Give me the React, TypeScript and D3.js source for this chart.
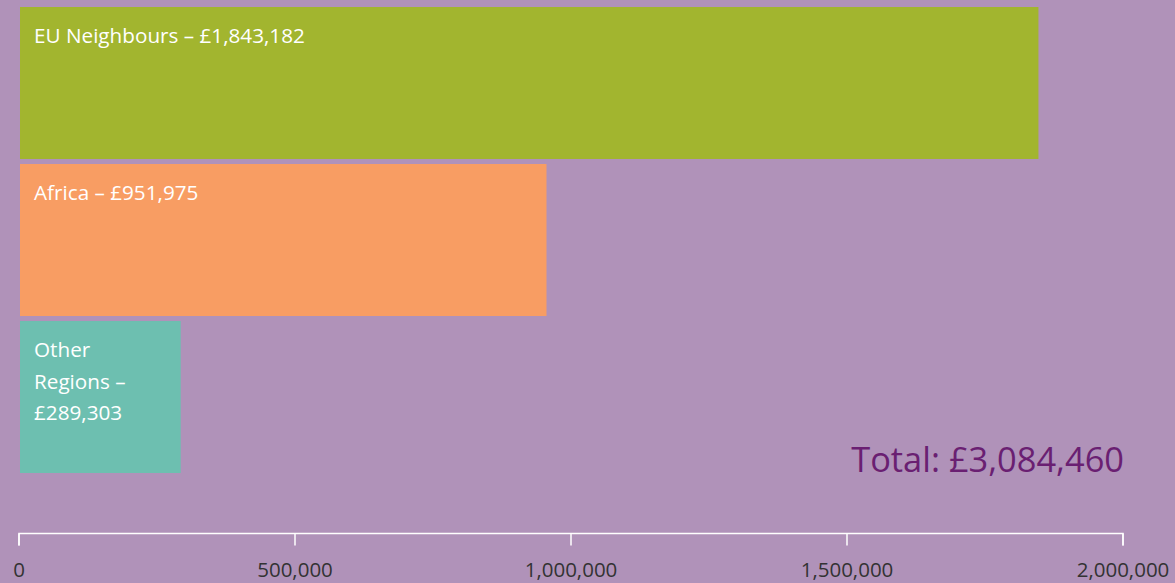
import React, { useEffect, useRef } from 'react';
import * as d3 from 'd3';

const regions = ['EU Neighbours', 'Africa', 'Other Regions'];
const amounts = [1843182, 951975, 289303];
const barColors = ['#a2b52f', '#f89d63', '#6dbfb0'];
const tickValues = [0, 500000, 1000000, 1500000, 2000000];
const totalLabel = 'Total: £3,084,460';

const W = 1175;
const H = 583;
const FONT = '"Open Sans", "Noto Sans", sans-serif';

const App: React.FC = () => {
  const svgRef = useRef<SVGSVGElement>(null);

  useEffect(() => {
    if (!svgRef.current) return;
    const svg = d3.select(svgRef.current);
    svg.selectAll('*').remove();

    svg.append('rect').attr('width', W).attr('height', H).attr('fill', '#b092b9');

    const x = d3.scaleLinear().domain([0, 2000000]).range([19, 1123]);
    const y = d3.scaleBand().domain(regions).range([7, 473]).paddingInner(0.032).paddingOuter(0);

    const rows = regions.map((r, i) => ({ region: r, value: amounts[i], color: barColors[i] }));
    const fmt = d3.format(',');

    const g = svg.append('g').selectAll('g').data(rows).enter().append('g');

    g.append('rect')
      .attr('x', x(0) + 1)
      .attr('y', d => y(d.region) || 0)
      .attr('width', d => x(d.value) - x(0) + 1)
      .attr('height', y.bandwidth())
      .attr('fill', d => d.color);

    // labels, wrapped inside the bar
    g.each(function (d) {
      const maxW = x(d.value) - x(0) - 26;
      const text = d3.select(this).append('text')
        .attr('font-family', FONT)
        .attr('font-size', 20.7)
        .attr('fill', '#ffffff')
        .attr('x', 34)
        .attr('y', (y(d.region) || 0) + 36);
      const words = `${d.region} – £${fmt(d.value)}`.split(' ');
      let line: string[] = [];
      let tspan = text.append('tspan').attr('x', 34).attr('dy', 0);
      words.forEach(w => {
        line.push(w);
        tspan.text(line.join(' '));
        if ((tspan.node() as SVGTSpanElement).getComputedTextLength() > maxW && line.length > 1) {
          line.pop();
          tspan.text(line.join(' '));
          line = [w];
          tspan = text.append('tspan').attr('x', 34).attr('dy', 31.5).text(w);
        }
      });
    });

    // axis
    const axis = svg.append('g').attr('transform', 'translate(0,533.5)');
    axis.append('path')
      .attr('d', `M${x(0)},12V0H${x(2000000)}V12`)
      .attr('fill', 'none')
      .attr('stroke', '#ffffff')
      .attr('stroke-width', 1.5);
    const ticks = axis.selectAll('g.tick').data(tickValues).enter().append('g')
      .attr('transform', d => `translate(${x(d)},0)`);
    ticks.append('line').attr('y2', 12).attr('stroke', '#ffffff').attr('stroke-width', 1.5);
    ticks.append('text')
      .attr('y', 43.5)
      .attr('text-anchor', 'middle')
      .attr('font-family', FONT)
      .attr('font-size', 20.5)
      .attr('fill', '#333333')
      .text(d => fmt(d));

    svg.append('text')
      .attr('x', 1124)
      .attr('y', 472)
      .attr('text-anchor', 'end')
      .attr('font-family', FONT)
      .attr('font-size', 34.4)
      .attr('fill', '#6a1f72')
      .text(totalLabel);
  }, []);

  return (
    <div style={{ position: 'absolute', top: 0, left: 0, width: W, height: H }}>
      <svg ref={svgRef} width={W} height={H} style={{ display: 'block' }}></svg>
    </div>
  );
};

export default App;
